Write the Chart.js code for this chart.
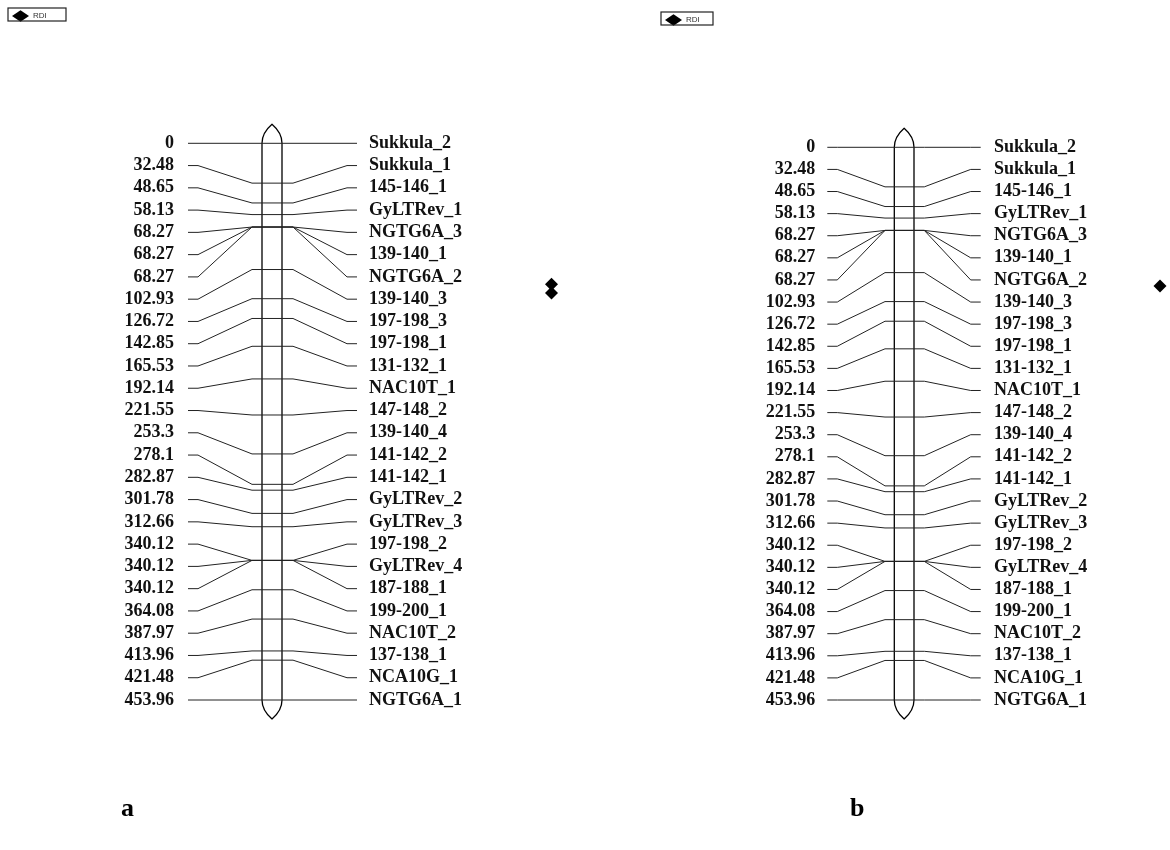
<!DOCTYPE html>
<html>
<head>
<meta charset="utf-8">
<title>Linkage map with RDI</title>
<script src="https://cdn.jsdelivr.net/npm/chart.js@4.4.1/dist/chart.umd.min.js"></script>
<style>
  body { margin: 0; background: #fff; }
  #page { position: relative; width: 1170px; height: 850px; overflow: hidden; }
  .panel { position: absolute; }
  .tag { position: absolute; font: bold 26px "Liberation Serif", serif; line-height: 26px; color: #000; }
</style>
</head>
<body>
<div id="page">
  <div class="panel" style="left:0;top:0;width:585px;height:850px"><canvas id="mapA"></canvas></div>
  <div class="panel" style="left:653px;top:4px;width:517px;height:846px"><canvas id="mapB"></canvas></div>
  <div class="tag" style="left:121px;top:795px">a</div>
  <div class="tag" style="left:850px;top:795px">b</div>
</div>

<script>
// markers, top to bottom
const markers = [
    'Sukkula_2', 'Sukkula_1', '145-146_1', 'GyLTRev_1', 'NGTG6A_3', '139-140_1',
    'NGTG6A_2', '139-140_3', '197-198_3', '197-198_1', '131-132_1', 'NAC10T_1',
    '147-148_2', '139-140_4', '141-142_2', '141-142_1', 'GyLTRev_2', 'GyLTRev_3',
    '197-198_2', 'GyLTRev_4', '187-188_1', '199-200_1', 'NAC10T_2', '137-138_1',
    'NCA10G_1', 'NGTG6A_1'
];

// map position of each marker (cM)
const positions = [
    0, 32.48, 48.65, 58.13, 68.27, 68.27, 68.27, 102.93, 126.72, 142.85, 165.53,
    192.14, 221.55, 253.3, 278.1, 282.87, 301.78, 312.66, 340.12, 340.12, 340.12,
    364.08, 387.97, 413.96, 421.48, 453.96
];

// RDI points (cM position) for each panel
const rdiA = [114.9, 122.0];
const rdiB = [113.9];

// drawing layout, canvas pixels
const layoutA = {
    topPx: 143.3, botPx: 700, capPx: 19,
    tick0: 188, tick1: 198, diagL: 252, barL: 262, barR: 282, diagR: 293,
    tickR0: 347, tickR1: 357, labelL: 174, labelR: 369, rdiX: 551.5,
    legendW: 58
};
const layoutB = {
    topPx: 143.3, botPx: 696, capPx: 19,
    tick0: 174.3, tick1: 184.3, diagL: 232, barL: 241.3, barR: 261, diagR: 271.3,
    tickR0: 317.7, tickR1: 327.7, labelL: 162.3, labelR: 341, rdiX: 507,
    legendW: 52
};

const lastPos = positions[positions.length - 1];

// labels are evenly spaced between the first and last position
function rowValue(i) {
    return i * lastPos / (positions.length - 1);
}

const linkagePlugin = {
    id: 'linkage',
    beforeDatasetsDraw(chart, args, lay) {
        const ctx = chart.ctx;
        const xs = chart.scales.x, ys = chart.scales.y;
        const L = xs.getPixelForValue(lay.barL);
        const R = xs.getPixelForValue(lay.barR);
        const cx = (L + R) / 2;
        const y0 = ys.getPixelForValue(positions[0]);
        const y1 = ys.getPixelForValue(lastPos);
        const cap = lay.capPx;
        ctx.save();
        ctx.strokeStyle = '#000';
        ctx.lineWidth = 1.3;
        ctx.beginPath();
        ctx.moveTo(L, y1);
        ctx.lineTo(L, y0);
        ctx.quadraticCurveTo(L, y0 - cap * 0.55, cx, y0 - cap);
        ctx.quadraticCurveTo(R, y0 - cap * 0.55, R, y0);
        ctx.lineTo(R, y1);
        ctx.quadraticCurveTo(R, y1 + cap * 0.55, cx, y1 + cap);
        ctx.quadraticCurveTo(L, y1 + cap * 0.55, L, y1);
        ctx.stroke();
        ctx.restore();
    },
    afterDatasetsDraw(chart, args, lay) {
        const ctx = chart.ctx;
        const xs = chart.scales.x, ys = chart.scales.y;
        ctx.save();
        ctx.fillStyle = '#111';
        ctx.font = 'bold 18px "Liberation Serif", serif';
        ctx.textBaseline = 'middle';
        positions.forEach((p, i) => {
            const yy = ys.getPixelForValue(rowValue(i));
            ctx.textAlign = 'right';
            ctx.fillText(String(p), xs.getPixelForValue(lay.labelL), yy);
            ctx.textAlign = 'left';
            ctx.fillText(markers[i], xs.getPixelForValue(lay.labelR), yy);
        });
        ctx.restore();
    },
    afterDraw(chart, args, lay) {
        const hb = chart.legend && chart.legend.legendHitBoxes[0];
        if (!hb) return;
        const ctx = chart.ctx;
        ctx.save();
        ctx.strokeStyle = '#222';
        ctx.lineWidth = 1.2;
        ctx.strokeRect(hb.left - 4, hb.top - 4, lay.legendW, 13);
        ctx.restore();
    }
};

function buildMap(canvasId, lay, rdi) {
    const H = document.getElementById(canvasId).parentNode.clientHeight;
    const W = document.getElementById(canvasId).parentNode.clientWidth;
    const range = lastPos * H / (lay.botPx - lay.topPx);
    const yMin = -lay.topPx * range / H;

    const datasets = [{
        label: 'RDI',
        data: rdi.map(v => ({x: lay.rdiX, y: v})),
        pointStyle: 'rectRot',
        pointRadius: 6.5,
        backgroundColor: '#000',
        borderColor: '#000',
        borderWidth: 0,
        showLine: false
    }];

    positions.forEach((p, i) => {
        const r = rowValue(i);
        datasets.push({
            label: markers[i],
            data: [
                {x: lay.tick0, y: r}, {x: lay.tick1, y: r},
                {x: lay.diagL, y: p}, {x: lay.diagR, y: p},
                {x: lay.tickR0, y: r}, {x: lay.tickR1, y: r}
            ],
            showLine: true,
            borderColor: '#222',
            borderWidth: 1,
            pointRadius: 0,
            tension: 0
        });
    });

    return new Chart(document.getElementById(canvasId), {
        type: 'scatter',
        data: { datasets: datasets },
        options: {
            responsive: true,
            maintainAspectRatio: false,
            animation: false,
            events: [],
            layout: { padding: 0, autoPadding: false },
            scales: {
                x: { type: 'linear', display: false, min: 0, max: W, bounds: 'data' },
                y: { type: 'linear', display: false, reverse: true, min: yMin, max: yMin + range, bounds: 'data' }
            },
            plugins: {
                tooltip: { enabled: false },
                legend: {
                    position: 'chartArea',
                    align: 'start',
                    labels: {
                        usePointStyle: true,
                        pointStyleWidth: 17,
                        padding: 12,
                        color: '#333',
                        font: { family: '"Liberation Sans", Arial, sans-serif', size: 8 },
                        filter: item => item.text === 'RDI'
                    }
                },
                linkage: lay
            }
        },
        plugins: [linkagePlugin]
    });
}

buildMap('mapA', layoutA, rdiA);
buildMap('mapB', layoutB, rdiB);
</script>
</body>
</html>
